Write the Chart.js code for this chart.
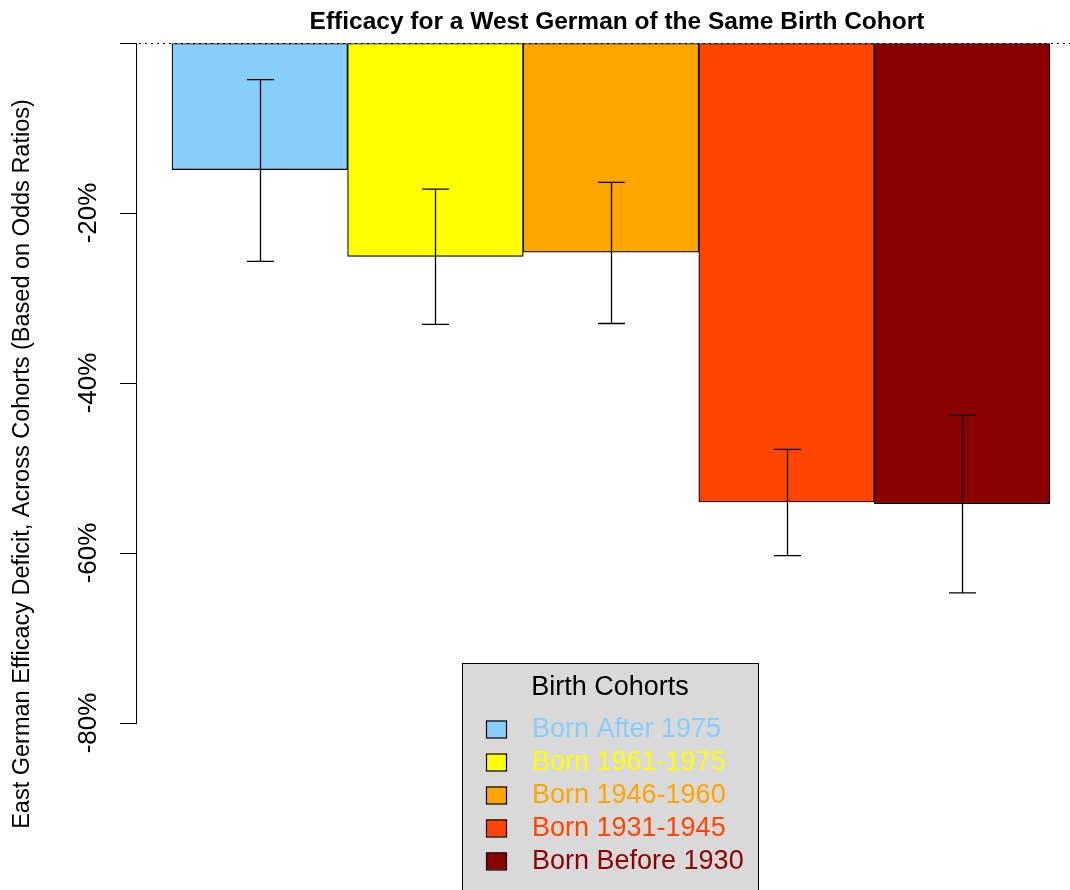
<!DOCTYPE html>
<html>
<head>
<meta charset="utf-8">
<script src="https://cdn.jsdelivr.net/npm/chart.js@4.4.0/dist/chart.umd.min.js"></script>
<style>
  body { margin: 0; background: #fff; }
  #wrap { width: 1070px; height: 890px; }
</style>
</head>
<body>
<div id="wrap"><canvas id="efficacy_chart" width="1070" height="890"></canvas></div>
<script>
// cohort estimates (percent)
const cohorts = ['Born After 1975', 'Born 1961-1975', 'Born 1946-1960', 'Born 1931-1945', 'Born Before 1930']
const positions = [0.5, 1.5, 2.5, 3.5, 4.5]
const deficit = [-14.9, -25.1, -24.6, -54.0, -54.2]
const ciUpper = [-4.3, -17.2, -16.4, -47.8, -43.8]
const ciLower = [-25.7, -33.1, -33.0, -60.3, -64.7]
const barColors = ['#87CEFA', '#FFFF00', '#FFA500', '#FF4500', '#8B0000']
const yTicks = [0, -20, -40, -60, -80]
const yTickLabels = ['', '-20%', '-40%', '-60%', '-80%']

const FONT = '"Liberation Sans", Arial, Helvetica, sans-serif'

const extras = {
  id: 'extras',
  afterDatasetsDraw(chart) {
    const ctx = chart.ctx
    const xs = chart.scales.x
    const ys = chart.scales.y
    ctx.save()
    // dotted reference line at zero
    const y0 = ys.getPixelForValue(0)
    ctx.strokeStyle = '#000'
    ctx.lineWidth = 1
    ctx.setLineDash([2, 4])
    ctx.beginPath()
    ctx.moveTo(139, y0 + 0.5)
    ctx.lineTo(1070, y0 + 0.5)
    ctx.stroke()
    ctx.setLineDash([])
    // error bars
    ctx.lineWidth = 1.3
    positions.forEach((p, i) => {
      const x = Math.round(xs.getPixelForValue(p)) + 0.5
      const yA = ys.getPixelForValue(ciUpper[i])
      const yB = ys.getPixelForValue(ciLower[i])
      ctx.beginPath()
      ctx.moveTo(x, yA); ctx.lineTo(x, yB)
      ctx.moveTo(x - 13.5, yA); ctx.lineTo(x + 13.5, yA)
      ctx.moveTo(x - 13.5, yB); ctx.lineTo(x + 13.5, yB)
      ctx.stroke()
    })
    ctx.restore()
  },
  afterDraw(chart) {
    const ctx = chart.ctx
    const ys = chart.scales.y
    ctx.save()
    ctx.fillStyle = '#000'
    // title
    ctx.font = 'bold 24.5px ' + FONT
    ctx.textAlign = 'center'
    ctx.textBaseline = 'middle'
    ctx.fillText('Efficacy for a West German of the Same Birth Cohort', 617, 22)
    // rotated tick labels
    ctx.font = '26px ' + FONT
    yTicks.forEach((v, i) => {
      if (!yTickLabels[i]) return
      ctx.save()
      ctx.translate(89, ys.getPixelForValue(v))
      ctx.rotate(-Math.PI / 2)
      ctx.fillText(yTickLabels[i], 0, 0)
      ctx.restore()
    })
    // axis title
    ctx.font = '23.5px ' + FONT
    ctx.save()
    ctx.translate(23, 464)
    ctx.rotate(-Math.PI / 2)
    ctx.fillText('East German Efficacy Deficit, Across Cohorts (Based on Odds Ratios)', 0, 0)
    ctx.restore()
    // legend box
    ctx.fillStyle = '#D9D9D9'
    ctx.fillRect(462, 663, 296, 240)
    ctx.strokeStyle = '#000'
    ctx.lineWidth = 1
    ctx.strokeRect(462.5, 663.5, 296, 240)
    ctx.fillStyle = '#000'
    ctx.font = '27px ' + FONT
    ctx.fillText('Birth Cohorts', 610, 688)
    ctx.textAlign = 'left'
    cohorts.forEach((c, i) => {
      const cy = 729 + i * 33
      ctx.fillStyle = barColors[i]
      ctx.fillRect(486, cy - 8.5, 20, 17)
      ctx.strokeStyle = '#000'
      ctx.lineWidth = 1.2
      ctx.strokeRect(486.5, cy - 8, 20, 17)
      ctx.fillStyle = barColors[i]
      ctx.fillText(c, 532, cy + 1)
    })
    ctx.restore()
  }
}

const ctxCanvas = document.getElementById('efficacy_chart').getContext('2d')
const myChart = new Chart(ctxCanvas, {
  type: 'bar',
  data: {
    datasets: [{
      data: positions.map((p, i) => ({x: p, y: deficit[i]})),
      backgroundColor: barColors,
      borderColor: '#000',
      borderWidth: 1.2,
      borderSkipped: false,
      barPercentage: 1,
      categoryPercentage: 1
    }]
  },
  options: {
    responsive: false,
    animation: false,
    layout: {padding: {top: 43, bottom: 167, left: 0, right: 0}},
    plugins: {legend: {display: false}, tooltip: {enabled: false}, title: {display: false}},
    scales: {
      x: {
        type: 'linear', display: false, offset: false, min: -0.205, max: 5.114,
        afterBuildTicks: (scale) => { scale.ticks = positions.map(v => ({value: v})) }
      },
      y: {
        min: -80,
        max: 0,
        afterFit: (scale) => { scale.width = 136 },
        afterBuildTicks: (scale) => { scale.ticks = yTicks.map(v => ({value: v})) },
        ticks: {display: false},
        grid: {drawOnChartArea: false, drawTicks: true, tickLength: 16, color: '#000', lineWidth: 1},
        border: {display: true, color: '#000', width: 1}
      }
    }
  },
  plugins: [extras]
})
</script>
</body>
</html>
